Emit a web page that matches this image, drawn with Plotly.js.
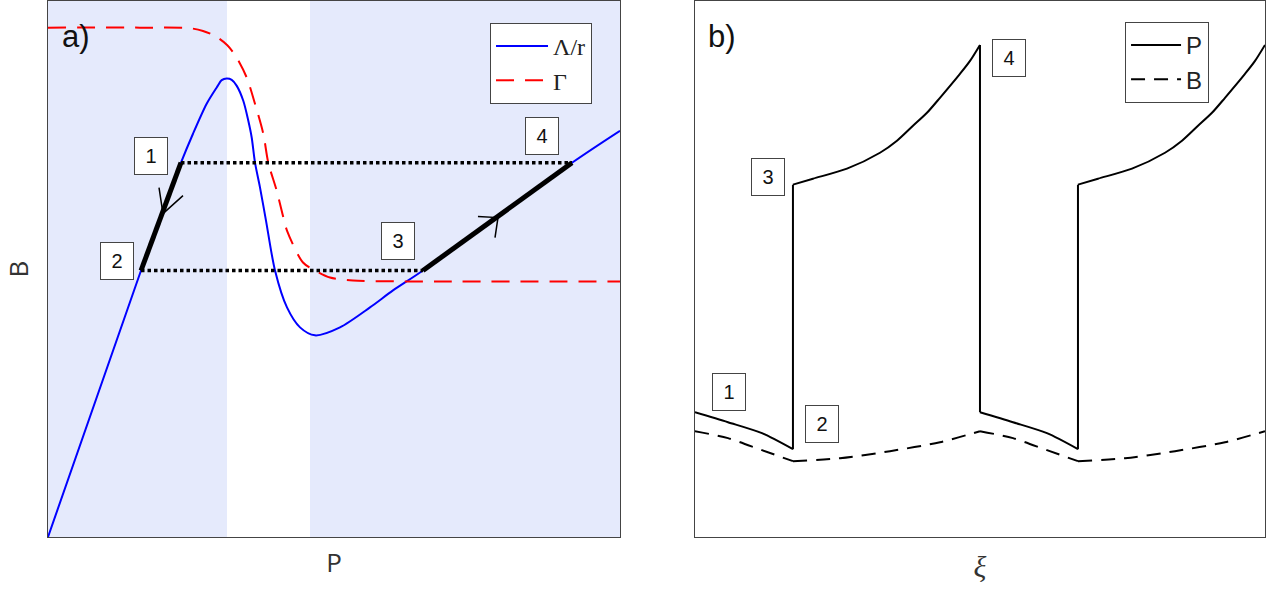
<!DOCTYPE html>
<html>
<head>
<meta charset="utf-8">
<script src="https://cdn.plot.ly/plotly-3.0.1.min.js"></script>
<style>
  html, body { margin: 0; padding: 0; background: #fff; }
  #chart { width: 1274px; height: 590px; }
</style>
</head>
<body>
<div id="chart"></div>
<script>
// ---- panel a) : B against P ----
// Lambda / r curve
const lamP = [0, 16.26, 23.25, 25.35, 27.74, 29.49, 30.37, 31.24, 32.12, 33.00, 34.14, 35.02, 35.61, 36.19, 37.06, 38.11,
              39.69, 41.78, 44.06, 46.68, 51.05, 56.29, 60.31, 65.56, 91.61, 100];
const lamB = [0, 49.72, 69.83, 75.23, 80.82, 83.85, 85.23, 85.53, 85.29, 84.17, 81.38, 77.65, 74.54, 69.83, 65.23, 59.03,
              49.72, 42.83, 39.11, 37.62, 39.11, 42.83, 46.00, 49.72, 69.83, 75.79];
// Gamma curve
const gamP = [0, 16.08, 24.83, 27.10, 29.20, 31.35, 32.99, 34.74, 36.19, 37.64, 38.51, 39.98, 41.14, 41.78, 44.58,
              47.03, 49.30, 53.32, 68.53, 100];
const gamB = [95.03, 95.03, 94.92, 94.41, 93.48, 91.75, 89.44, 85.72, 80.82, 75.23, 69.83, 64.62, 59.65, 57.17, 51.21,
              49.53, 48.42, 47.86, 47.67, 47.67];
// states 1..4 of the cycle
const stateP = [23.25, 16.26, 65.56, 91.61];
const stateB = [69.83, 49.72, 49.72, 69.83];
const stateLabels = ['1', '2', '3', '4'];
// label box centres
const labelP = [18.01, 12.06, 61.19, 86.36];
const labelB = [71.14, 51.58, 55.31, 74.86];
// arrow heads on the thick branches
const arrow1P = [19.41, 20.10, 23.60];
const arrow1B = [65.18, 60.34, 63.69];
const arrow2P = [75.17, 78.67, 78.15];
const arrow2B = [59.78, 59.59, 55.87];
// shaded (stable) P bands
const stableBands = [[0, 31.29], [45.80, 100]];

// ---- panel b) : P and B against xi ----
// smooth pieces of P, separated by null (jumps drawn apart)
const xiP = [0, 5.79, 11.75, 17.19, null,
             17.19, 20.70, 26.67, 32.46, 35.44, 38.25, 40.70, 42.98, 46.49, 48.25, 50, null,
             50, 55.79, 61.75, 67.19, null,
             67.19, 70.70, 76.67, 82.46, 85.44, 88.25, 90.70, 92.98, 96.49, 98.25, 100];
const valP = [23.28, 21.42, 19.37, 16.39, null,
              65.74, 66.85, 68.72, 71.69, 73.93, 76.72, 79.14, 81.94, 86.41, 88.83, 91.81, null,
              23.28, 21.42, 19.37, 16.39, null,
              65.74, 66.85, 68.72, 71.69, 73.93, 76.72, 79.14, 81.94, 86.41, 88.83, 91.81];
// vertical jumps of P
const jumpXi = [17.19, 17.19, null, 50, 50, null, 67.19, 67.19];
const jumpP = [16.39, 65.74, null, 91.81, 23.28, null, 16.39, 65.74];
// B pieces
const xiB = [0, 5.79, 11.75, 17.19, null, 17.19, 25.44, 34.21, 42.98, 50, null,
             50, 55.79, 61.75, 67.19, null, 67.19, 75.44, 84.21, 92.98, 100];
const valB = [19.74, 18.44, 16.20, 14.15, null, 14.15, 14.71, 16.01, 17.69, 19.74, null,
              19.74, 18.44, 16.20, 14.15, null, 14.15, 14.71, 16.01, 17.69, 19.74];
const labelXi = [5.96, 22.28, 12.81, 55.09];
const labelY = [27.0, 21.04, 67.23, 89.39];

const thin = { hoverinfo: 'skip', showlegend: false, mode: 'lines' };

const traces = [
  {
    x: lamP, y: lamB, xaxis: 'x', yaxis: 'y', type: 'scatter', mode: 'lines', name: 'Λ/r',
    line: { color: '#0000ff', width: 2, shape: 'spline', smoothing: 0.8 }, legend: 'legend'
  },
  {
    x: gamP, y: gamB, xaxis: 'x', yaxis: 'y', type: 'scatter', mode: 'lines', name: 'Γ',
    line: { color: '#ff0000', width: 2, dash: '18px,11px', shape: 'spline', smoothing: 0.8 }, legend: 'legend'
  },
  // dotted jumps 1->4 and 2->3
  Object.assign({ x: [stateP[0], stateP[3]], y: [stateB[0], stateB[3]], xaxis: 'x', yaxis: 'y',
    line: { color: '#000', width: 3.5, dash: '3.5px,3px' } }, thin),
  Object.assign({ x: [stateP[1], stateP[2]], y: [stateB[1], stateB[2]], xaxis: 'x', yaxis: 'y',
    line: { color: '#000', width: 3.5, dash: '3.5px,3px' } }, thin),
  // thick branches 1->2 and 3->4
  Object.assign({ x: [stateP[0], stateP[1]], y: [stateB[0], stateB[1]], xaxis: 'x', yaxis: 'y',
    line: { color: '#000', width: 5 } }, thin),
  Object.assign({ x: [stateP[2], stateP[3]], y: [stateB[2], stateB[3]], xaxis: 'x', yaxis: 'y',
    line: { color: '#000', width: 5 } }, thin),
  Object.assign({ x: arrow1P, y: arrow1B, xaxis: 'x', yaxis: 'y', line: { color: '#000', width: 1.5 } }, thin),
  Object.assign({ x: arrow2P, y: arrow2B, xaxis: 'x', yaxis: 'y', line: { color: '#000', width: 1.5 } }, thin),
  // panel b
  {
    x: xiP, y: valP, xaxis: 'x2', yaxis: 'y2', mode: 'lines', name: 'P', connectgaps: false,
    line: { color: '#000', width: 2, shape: 'spline', smoothing: 0.8 }, legend: 'legend2', legendgroup: 'P'
  },
  Object.assign({ x: jumpXi, y: jumpP, xaxis: 'x2', yaxis: 'y2', connectgaps: false, legendgroup: 'P',
    line: { color: '#000', width: 2 } }, thin),
  {
    x: xiB, y: valB, xaxis: 'x2', yaxis: 'y2', mode: 'lines', name: 'B', connectgaps: false,
    line: { color: '#000', width: 2, dash: '14px,9px', shape: 'spline', smoothing: 0.8 }, legend: 'legend2'
  }
];

const boxStyle = {
  showarrow: false, bgcolor: '#fff', bordercolor: '#444', borderwidth: 1, borderpad: 1,
  width: 30, height: 34, font: { family: 'Liberation Sans, Arial, sans-serif', size: 20, color: '#111' }
};

const annotations = [];
stateLabels.forEach((t, i) => {
  annotations.push(Object.assign({ x: labelP[i], y: labelB[i], xref: 'x', yref: 'y', text: t }, boxStyle));
  annotations.push(Object.assign({ x: labelXi[i], y: labelY[i], xref: 'x2', yref: 'y2', text: t }, boxStyle));
});
annotations.push({
  x: 0.0100, y: 0.934, xref: 'paper', yref: 'paper', xanchor: 'left', yanchor: 'middle', showarrow: false,
  text: 'a)', font: { family: 'Liberation Sans, Arial, sans-serif', size: 31, color: '#111' }
});
annotations.push({
  x: 0.5410, y: 0.934, xref: 'paper', yref: 'paper', xanchor: 'left', yanchor: 'middle', showarrow: false,
  text: 'b)', font: { family: 'Liberation Sans, Arial, sans-serif', size: 31, color: '#111' }
});

const shapes = stableBands.map(b => ({
  type: 'rect', xref: 'x', yref: 'y', x0: b[0], x1: b[1], y0: 0, y1: 100,
  fillcolor: '#e5eafc', line: { width: 0 }, layer: 'below'
}));

const axisBase = {
  range: [0, 100], showgrid: false, zeroline: false, showticklabels: false, ticks: '',
  showline: true, mirror: true, linecolor: '#444', linewidth: 1, fixedrange: true
};

const layout = {
  width: 1274, height: 590,
  margin: { l: 48, r: 9, t: 1, b: 53 },
  paper_bgcolor: '#fff', plot_bgcolor: '#fff',
  font: { family: '"Open Sans", verdana, arial, sans-serif', color: '#444' },
  xaxis: Object.assign({}, axisBase, {
    domain: [0, 0.470], anchor: 'y',
    title: { text: 'P', font: { size: 26, color: '#333' }, standoff: 16 }
  }),
  yaxis: Object.assign({}, axisBase, {
    domain: [0, 1], anchor: 'x',
    title: { text: 'B', font: { size: 26, color: '#333' }, standoff: 12 }
  }),
  xaxis2: Object.assign({}, axisBase, {
    domain: [0.5316, 1], anchor: 'y2',
    title: { text: '<i>ξ</i>', font: { family: 'Liberation Serif, Times New Roman, serif', size: 30, color: '#333' }, standoff: 18 }
  }),
  yaxis2: Object.assign({}, axisBase, { domain: [0, 1], anchor: 'x2' }),
  legend: {
    x: 0.3632, y: 0.959, xanchor: 'left', yanchor: 'top', bgcolor: '#fff',
    bordercolor: '#444', borderwidth: 1, tracegroupgap: 0, itemwidth: 52,
    font: { family: 'Liberation Serif, Times New Roman, serif', size: 24, color: '#222' }
  },
  legend2: {
    x: 0.885, y: 0.961, xanchor: 'left', yanchor: 'top', bgcolor: '#fff',
    bordercolor: '#444', borderwidth: 1, tracegroupgap: 0, itemwidth: 50,
    font: { family: 'Liberation Sans, Arial, sans-serif', size: 24, color: '#222' }
  },
  shapes: shapes,
  annotations: annotations,
  showlegend: true
};

Plotly.newPlot('chart', traces, layout, { staticPlot: true, displayModeBar: false });
</script>
</body>
</html>
